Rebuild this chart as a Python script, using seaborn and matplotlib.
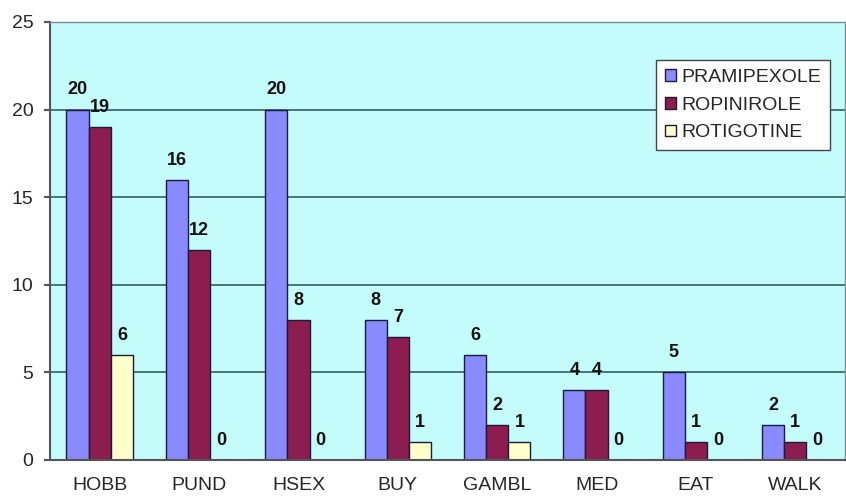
import matplotlib
matplotlib.use("Agg")
import matplotlib.pyplot as plt
import seaborn as sns
import pandas as pd

categories = ["HOBB", "PUND", "HSEX", "BUY", "GAMBL", "MED", "EAT", "WALK"]
pramipexole = [20, 16, 20, 8, 6, 4, 5, 2]
ropinirole = [19, 12, 8, 7, 2, 4, 1, 1]
rotigotine = [6, 0, 0, 1, 1, 0, 0, 0]
series_names = ["PRAMIPEXOLE", "ROPINIROLE", "ROTIGOTINE"]
colors = ["#8a8aff", "#8c1d4e", "#ffffcc"]

rows = []
for name, vals in zip(series_names, [pramipexole, ropinirole, rotigotine]):
    for c, v in zip(categories, vals):
        rows.append({"cat": c, "drug": name, "val": v})
df = pd.DataFrame(rows)

sns.set_style("white")
plt.rcParams["font.family"] = ["Liberation Sans", "DejaVu Sans"]

fig = plt.figure(figsize=(8.46, 4.96), dpi=100)
ax = fig.add_axes([50/846, 1-460/496, 795/846, (460-22)/496])
ax.set_facecolor("#c4fbfb")

sns.barplot(data=df, x="cat", y="val", hue="drug", hue_order=series_names,
            order=categories, palette=colors, width=0.67, ax=ax,
            edgecolor="#1a1a3a", linewidth=1.0, saturation=1, legend=True)

ax.set_ylim(0, 25)
ax.set_xlim(-0.5, len(categories) - 0.5)
ax.set_yticks([0, 5, 10, 15, 20, 25])
ax.yaxis.grid(True, color="#3d6b6b", linewidth=1.3)
ax.set_axisbelow(True)
ax.set_xlabel("")
ax.set_ylabel("")

for cont in ax.containers:
    for bar in cont:
        h = bar.get_height()
        ax.annotate(f"{int(h)}", (bar.get_x() + bar.get_width()/2, h),
                    xytext=(0, 8), textcoords="offset points",
                    ha="center", va="bottom", fontsize=13, fontweight="bold",
                    color="#111111")

for s in ["left", "bottom"]:
    ax.spines[s].set_color("#555555")
    ax.spines[s].set_linewidth(1.5)
for s in ["top", "right"]:
    ax.spines[s].set_color("#7a8f8f")
    ax.spines[s].set_linewidth(1.0)

ax.set_xticks([i + 0.5 for i in range(len(categories) - 1)], minor=True)
ax.tick_params(axis="x", which="major", length=0, labelsize=14, pad=12)
ax.tick_params(axis="x", which="minor", length=5, width=1.5, color="#555555", direction="out")
ax.tick_params(axis="y", length=4, width=1.5, color="#555555", labelsize=14, pad=8, left=True)

leg = ax.legend(loc="upper right", bbox_to_anchor=(0.981, 0.913), frameon=True,
                fancybox=False, edgecolor="#444444", framealpha=1,
                handlelength=0.55, handleheight=0.55, handletextpad=0.3,
                labelspacing=0.55, fontsize=14, borderpad=0.45, borderaxespad=0)
leg.get_frame().set_linewidth(1.0)

fig.savefig("out.png", dpi=100)
